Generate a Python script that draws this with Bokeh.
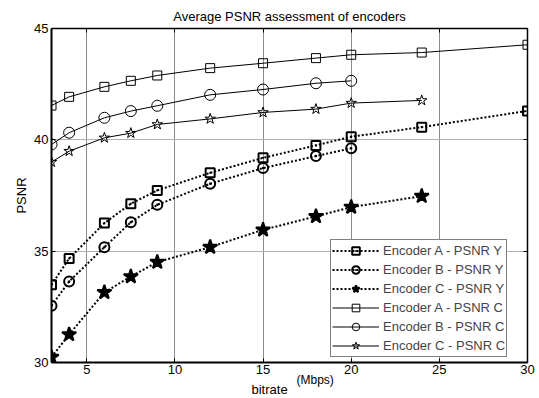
from bokeh.plotting import figure
from bokeh.models import Range1d, LinearAxis, FixedTicker, Legend, LegendItem, CustomJSTickFormatter, Title
from bokeh.embed import file_html
from bokeh.resources import INLINE

# ---- data ----
bitrate_a = [3, 4, 6, 7.5, 9, 12, 15, 18, 20, 24, 30]
bitrate_b = [3, 4, 6, 7.5, 9, 12, 15, 18, 20]
bitrate_c = [3, 4, 6, 7.5, 9, 12, 15, 18, 20, 24]

enc_a_y = [33.49, 34.67, 36.26, 37.13, 37.73, 38.52, 39.19, 39.75, 40.14, 40.57, 41.30]
enc_b_y = [32.55, 33.64, 35.18, 36.30, 37.08, 38.03, 38.73, 39.27, 39.62]
enc_c_y = [30.24, 31.26, 33.15, 33.86, 34.51, 35.18, 35.96, 36.56, 36.98, 37.47]
enc_a_c = [41.54, 41.93, 42.38, 42.65, 42.89, 43.22, 43.44, 43.67, 43.82, 43.92, 44.27]
enc_b_c = [39.79, 40.32, 40.99, 41.29, 41.53, 42.02, 42.26, 42.54, 42.65]
enc_c_c = [39.00, 39.49, 40.09, 40.30, 40.69, 40.94, 41.23, 41.38, 41.65, 41.77]

x_ticks = [5, 10, 15, 20, 25, 30]
y_ticks = [30, 35, 40, 45]

FONT = "Liberation Sans"

p = figure(frame_width=476, frame_height=334, output_backend="svg", toolbar_location=None,
           x_range=Range1d(3, 30), y_range=Range1d(30, 45),
           min_border_left=51, min_border_right=12, min_border_top=28, min_border_bottom=36,
           title="Average PSNR assessment of encoders")
p.outline_line_color = None
p.title.text_font = FONT
p.title.text_font_size = "13px"
p.title.text_font_style = "normal"
p.title.text_color = "black"
p.title.align = "center"
p.title.standoff = 10
p.title.offset = 0

for ax in (p.xaxis[0], p.yaxis[0]):
    ax.major_label_text_font = FONT
    ax.major_label_text_font_size = "13px"
    ax.major_label_text_color = "black"
    ax.axis_line_width = 2
    ax.axis_line_color = "black"
    ax.major_tick_in = 4
    ax.major_tick_out = 0
    ax.minor_tick_line_color = None
    ax.major_tick_line_color = "black"
p.xaxis[0].ticker = FixedTicker(ticks=x_ticks)
p.yaxis[0].ticker = FixedTicker(ticks=y_ticks)
p.xaxis[0].major_label_standoff = 2
p.yaxis[0].major_label_standoff = 3
p.yaxis[0].axis_label = "PSNR"
p.yaxis[0].axis_label_text_font = FONT
p.yaxis[0].axis_label_text_font_size = "13px"
p.yaxis[0].axis_label_text_font_style = "normal"
p.yaxis[0].axis_label_text_color = "black"
p.yaxis[0].axis_label_standoff = 2

blank = CustomJSTickFormatter(code="return ''")
top = LinearAxis(ticker=FixedTicker(ticks=x_ticks), formatter=blank)
right = LinearAxis(ticker=FixedTicker(ticks=y_ticks), formatter=blank)
for ax in (top, right):
    ax.major_label_text_font_size = "0px"
    ax.major_label_standoff = 0
    ax.axis_line_width = 1.5
    ax.axis_line_color = "black"
    ax.major_tick_in = 4
    ax.major_tick_out = 0
    ax.minor_tick_line_color = None
p.add_layout(top, "above")
p.add_layout(right, "right")

# x-axis label pieces: "bitrate" and a smaller, raised "(Mbps)"
t_mbps = Title(text="(Mbps)", align="left", offset=245, standoff=-9, vertical_align="middle",
               text_font=FONT, text_font_size="12px", text_font_style="normal", text_color="black")
t_bit = Title(text="bitrate", align="left", offset=200, standoff=-5, vertical_align="middle",
              text_font=FONT, text_font_size="13px", text_font_style="normal", text_color="black")
p.add_layout(t_mbps, "below")
p.add_layout(t_bit, "below")

p.xgrid.grid_line_color = "#8c8c8c"
p.ygrid.grid_line_color = "#b0b0b0"
p.grid.grid_line_width = 1
p.xgrid.ticker = FixedTicker(ticks=x_ticks)
p.ygrid.ticker = FixedTicker(ticks=y_ticks)

items = []
def series(xs, ys, name, marker, size, dotted, filled=False):
    if dotted:
        r1 = p.line(xs, ys, line_color="black", line_width=2, line_dash="2 2")
        lw = 2
    else:
        r1 = p.line(xs, ys, line_color="black", line_width=1)
        lw = 1
    r2 = p.scatter(xs, ys, marker=marker, size=size, line_color="black", line_width=lw,
                   fill_color="black" if filled else None)
    items.append(LegendItem(label=name, renderers=[r1, r2]))

series(bitrate_a, enc_a_y, "Encoder A - PSNR Y", "square_dot", 9, True)
series(bitrate_b, enc_b_y, "Encoder B - PSNR Y", "circle_dot", 10, True)
series(bitrate_c, enc_c_y, "Encoder C - PSNR Y", "star", 15, True, filled=True)
series(bitrate_a, enc_a_c, "Encoder A - PSNR C", "square", 9, False)
series(bitrate_b, enc_b_c, "Encoder B - PSNR C", "circle", 11, False)
series(bitrate_c, enc_c_c, "Encoder C - PSNR C", "star", 11, False)

legend = Legend(items=items, location=(279, 5), glyph_width=47, glyph_height=19,
                label_height=19, spacing=0, padding=1, margin=0, label_standoff=4,
                label_width=100, label_text_font=FONT, label_text_font_size="13px",
                border_line_color="black", border_line_width=1.5, background_fill_color="white",
                background_fill_alpha=1)
p.add_layout(legend, "center")

open("out.html", "w").write(file_html(p, INLINE))
